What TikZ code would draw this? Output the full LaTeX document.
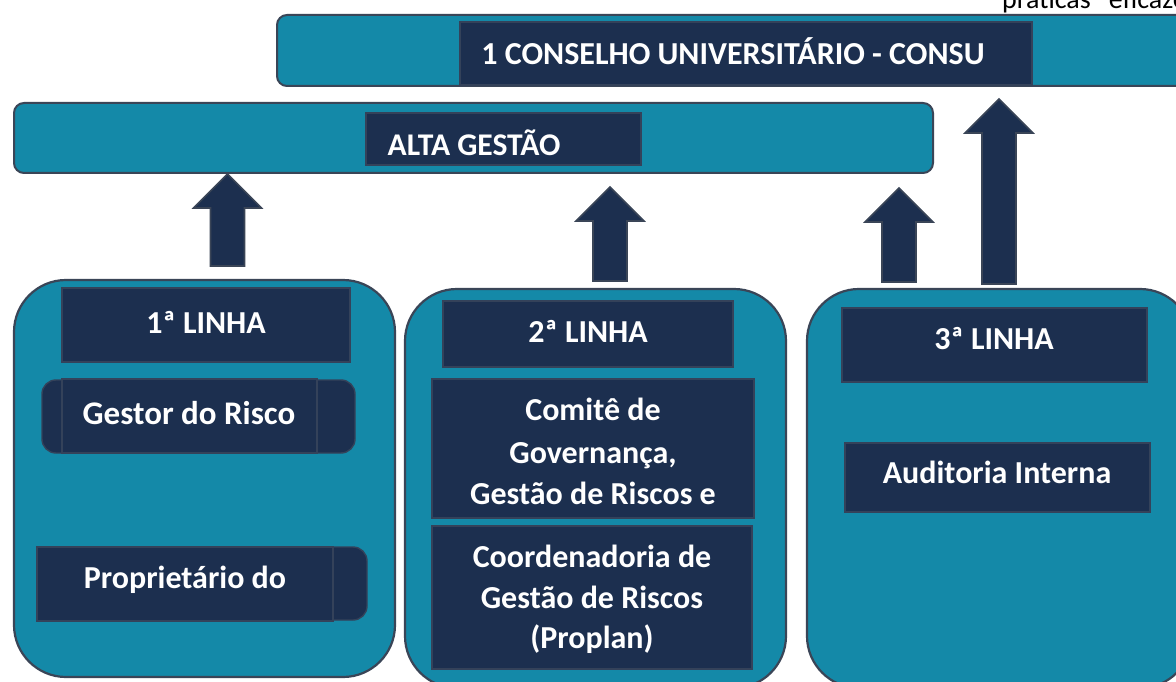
\documentclass[tikz,border=0pt]{standalone}
\usepackage{fontspec}
\setmainfont{Carlito}
\usetikzlibrary{fit}
\definecolor{tealfill}{HTML}{1489A8}
\definecolor{navy}{HTML}{1C2F4F}
\definecolor{edgegray}{HTML}{3A4557}
\definecolor{boxedge}{HTML}{34425A}
\tikzset{
  barbox/.style={draw=edgegray, line width=2pt, fill=tealfill, rounded corners=10pt, inner sep=0pt},
  container/.style={draw=edgegray, line width=2.2pt, fill=tealfill, rounded corners=52pt, inner sep=0pt},
  darkbox/.style={draw=boxedge, line width=1.4pt, fill=navy, inner sep=0pt},
  darkround/.style={draw=boxedge, line width=1.4pt, fill=navy, inner sep=0pt, rounded corners=14pt},
  lbl/.style={text=white, inner sep=0pt, font=\bfseries\fontsize{32}{42}\selectfont},
  ttl/.style={text=white, inner sep=0pt, font=\bfseries\fontsize{32}{40}\selectfont},
  toptext/.style={text=black, inner sep=0pt, font=\fontsize{28}{34}\selectfont},
  blockarrow/.style={draw=edgegray, line width=1.6pt, fill=navy, line join=miter}
}
\newcommand\upblock[4]{% name, center x, tip y, bottom y
  \coordinate (#1-tip) at (#2,#3);
  \coordinate (#1-foot) at (#2,#4);
  \draw[blockarrow] ({#2-17},#4) -- ({#2-17},{#3+34}) -- ({#2-34},{#3+34}) -- (#1-tip)
     -- ({#2+34},{#3+34}) -- ({#2+17},{#3+34}) -- ({#2+17},#4) -- cycle;
}
\begin{document}
\begin{tikzpicture}[x=1pt,y=-1pt]
\useasboundingbox (0,0) rectangle (1176,682);
\fill[white] (0,0) rectangle (1176,682);
\begin{scope}
\clip (0,0) rectangle (1176,682);

% top-right cut text
\node[toptext, anchor=base west] (toptxt) at (1002,9) {práticas” eficazes};

% CONSU bar
\node[barbox, fit={(277,15) (1196,86)}] (consubar) {};
\node[darkbox, fit={(460,22) (1032,85)}] (consubox) {};
\node[lbl, anchor=base] (consutxt) at (733,65) {1 CONSELHO UNIVERSITÁRIO - CONSU};

% ALTA GESTAO bar
\node[barbox, fit={(14,103) (933,173)}] (altabar) {};
\node[darkbox, fit={(366,113) (641,165)}] (altabox) {};
\node[ttl, font=\bfseries\fontsize{31.6}{40}\selectfont, anchor=base] (altatxt) at (474,156) {ALTA GESTÃO};

% arrows
\upblock{a1}{227.5}{174}{266}
\upblock{a2}{610}{187}{281}
\upblock{a3}{899}{188}{282}
\upblock{a4}{999}{99}{284}

% containers
\node[container, fit={(14,280) (395,677)}] (lin1) {};
\node[container, fit={(405,289) (786,688)}] (lin2) {};
\node[container, fit={(807,289) (1192,688)}] (lin3) {};

% 1a linha
\node[darkbox, fit={(62,288) (350,362)}] (l1box) {};
\node[ttl, anchor=base] (l1txt) at (206,333) {1ª LINHA};

\node[darkround, fit={(42,380) (355,453)}] (gestorR) {};
\node[darkbox, fit={(62,379) (317,453)}] (gestor) {};
\node[lbl, font=\bfseries\fontsize{33}{42}\selectfont, anchor=base] (gestortxt) at (189,424) {Gestor do Risco};

\node[darkround, fit={(50,547) (367,620)}] (propR) {};
\node[darkbox, fit={(37,547) (333,621)}] (prop) {};
\node[lbl, anchor=base] (proptxt) at (185,588) {Proprietário do};

% 2a linha
\node[darkbox, fit={(443,301) (733,367)}] (l2box) {};
\node[ttl, anchor=base] (l2txt) at (588,342) {2ª LINHA};

\node[darkbox, fit={(432,379) (754,518)}] (comite) {};
\node[lbl, anchor=base] (comite1) at (593,420) {Comitê de};
\node[lbl, anchor=base] (comite2) at (593,463) {Governança,};
\node[lbl, anchor=base] (comite3) at (593,504) {Gestão de Riscos e};

\node[darkbox, fit={(432,526) (752,669)}] (coord) {};
\node[lbl, anchor=base] (coord1) at (592,567) {Coordenadoria de};
\node[lbl, anchor=base] (coord2) at (592,608) {Gestão de Riscos};
\node[lbl, anchor=base] (coord3) at (592,648) {(Proplan)};

% 3a linha
\node[darkbox, fit={(842,308) (1147,382)}] (l3box) {};
\node[ttl, anchor=base] (l3txt) at (994,349) {3ª LINHA};

\node[darkbox, fit={(845,443) (1150,512)}] (audit) {};
\node[lbl, anchor=base] (audittxt) at (997,483) {Auditoria Interna};
\end{scope}
\end{tikzpicture}
\end{document}
